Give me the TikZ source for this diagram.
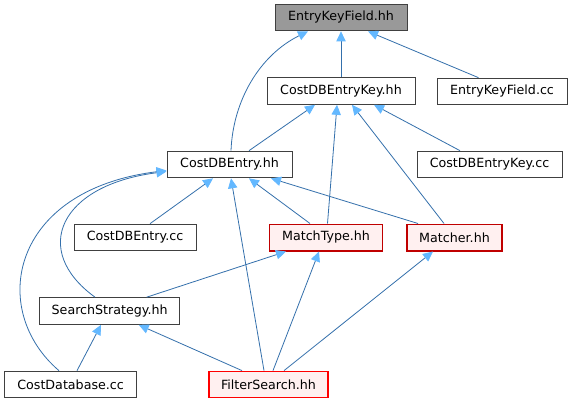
\documentclass[tikz,border=0pt]{standalone}
\usepackage{fontspec}
\setmainfont{DejaVu Sans}
\usetikzlibrary{arrows.meta,calc}
\definecolor{edgeblue}{HTML}{3470AC}
\definecolor{tipblue}{HTML}{63B8FF}
\definecolor{nodeborder}{HTML}{404040}
\definecolor{rootfill}{HTML}{999999}
\definecolor{truncfill}{HTML}{FFF0F0}
\definecolor{darkred}{HTML}{C00000}
\begin{document}
\begin{tikzpicture}[x=0.75pt,y=-0.75pt,
  font=\fontsize{9.5}{11}\selectfont,
  box/.style={draw=nodeborder, fill=white, line width=0.75pt, inner sep=0pt, minimum height=20pt},
  rootbox/.style={box, fill=rootfill},
  redbox/.style={box, draw=darkred, fill=truncfill, line width=1pt},
  brightred/.style={box, draw=red, fill=truncfill, line width=0.85pt},
  dep/.style={draw=edgeblue, line width=0.6pt, -{Triangle[length=7.5pt,width=7pt,color=tipblue]}}]
\fill[white] (0,0) rectangle (573,403);
\useasboundingbox (0,0) rectangle (573,403);

\node[rootbox, minimum width=99pt] (EKFh) at (341,17.5) {EntryKeyField.hh};
\node[box, minimum width=111pt] (CDBEKh) at (341,91) {CostDBEntryKey.hh};
\node[box, minimum width=97.5pt] (EKFcc) at (502,91.5) {EntryKeyField.cc};
\node[box, minimum width=93.75pt] (CDBEh) at (229.5,164.5) {CostDBEntry.hh};
\node[box, minimum width=108.75pt] (CDBEKcc) at (489.5,164.5) {CostDBEntryKey.cc};
\node[box, minimum width=91.5pt] (CDBEcc) at (135,237.5) {CostDBEntry.cc};
\node[redbox, minimum width=84.75pt] (MTh) at (326,237.5) {MatchType.hh};
\node[redbox, minimum width=71.25pt] (Mh) at (454.5,237.5) {Matcher.hh};
\node[box, minimum width=105pt] (SSh) at (109.7,311) {SearchStrategy.hh};
\node[box, minimum width=99pt] (CDcc) at (70.6,384.5) {CostDatabase.cc};
\node[brightred, minimum width=89.25pt] (FSh) at (268.5,384.5) {FilterSearch.hh};

% edges into EntryKeyField.hh
\draw[dep] (CDBEKh.north) -- (EKFh.south);
\draw[dep] ($(EKFcc.north)+(-23.5,0)$) -- ($(EKFh.south)+(27,0)$);
\draw[dep] ($(CDBEh.north)+(1.5,0)$) .. controls (233,100) and (260,55) .. ($(EKFh.south)+(-33,0)$);
% edges into CostDBEntryKey.hh
\draw[dep] ($(CDBEh.north)+(19.5,0)$) -- ($(CDBEKh.south)+(-26,0)$);
\draw[dep] ($(MTh.north)+(1.5,0)$) -- ($(CDBEKh.south)+(-4,0)$);
\draw[dep] ($(Mh.north)+(-10.5,0)$) -- ($(CDBEKh.south)+(11,0)$);
\draw[dep] ($(CDBEKcc.north)+(-29.5,0)$) -- ($(CDBEKh.south)+(33,0)$);
% edges into CostDBEntry.hh
\draw[dep] ($(CDBEcc.north)+(15,0)$) -- ($(CDBEh.south)+(-16.5,0)$);
\draw[dep] ($(MTh.north)+(-16,0)$) -- ($(CDBEh.south)+(19.5,0)$);
\draw[dep] ($(Mh.north)+(-36.5,0)$) -- ($(CDBEh.south)+(41.5,0)$);
\draw[dep] ($(FSh.north)+(-4.5,0)$) -- ($(CDBEh.south)+(1.5,0)$);
\draw[dep] ($(SSh.north)+(-14.7,0)$) .. controls (30,250) and (60,185) .. ($(CDBEh.west)+(0,7)$);
\draw[dep] ($(CDcc.north)+(-11.6,0)$) .. controls (-12,310) and (10,190) .. ($(CDBEh.west)+(0,6)$);
% edges into MatchType.hh
\draw[dep] ($(SSh.north)+(37,0)$) -- ($(MTh.south)+(-40,0)$);
\draw[dep] ($(FSh.north)+(4.5,0)$) -- ($(MTh.south)+(-7,0)$);
% edge into Matcher.hh
\draw[dep] ($(FSh.north)+(15.5,0)$) -- ($(Mh.south)+(-21.5,0)$);
% edges into SearchStrategy.hh
\draw[dep] ($(CDcc.north)+(6.4,0)$) -- ($(SSh.south)+(-8.7,0)$);
\draw[dep] ($(FSh.north)+(-26.5,0)$) -- ($(SSh.south)+(29,0)$);
\end{tikzpicture}
\end{document}
